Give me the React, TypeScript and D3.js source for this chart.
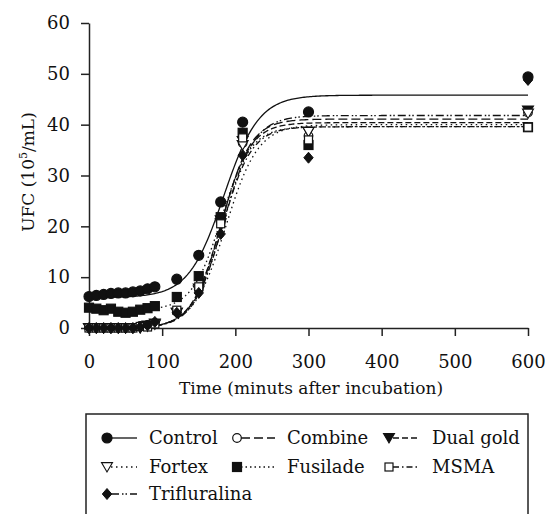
import React, { useEffect, useRef } from 'react';
import * as d3 from 'd3';

// sampling times (minutes)
const times = [0, 10, 20, 30, 40, 50, 60, 70, 80, 90, 120, 150, 180, 210, 300, 600];

const control = [6.2, 6.4, 6.6, 6.8, 6.9, 6.9, 7.1, 7.3, 7.7, 8.1, 9.6, 14.3, 24.8, 40.5, 42.5, 49.4];
const combine = [0, 0, 0, 0, 0, 0, 0, 0.4, 0.6, 1.0, 3.2, 7.6, 20.8, 36.4, 37.8, 42.4];
const dualGold = [0, 0, 0, 0, 0, 0, 0, 0, 0.5, 0.9, 3.0, 7.8, 21.2, 36.8, 38.6, 42.8];
const fortex = [0, 0, 0, 0, 0, 0, 0, 0, 0.3, 0.7, 3.0, 7.4, 20.6, 36.0, 38.6, 42.2];
const fusilade = [4.0, 3.8, 3.5, 3.8, 3.2, 3.0, 3.2, 3.6, 3.9, 4.3, 6.1, 10.2, 21.8, 38.4, 36.0, 39.5];
const msma = [0, 0, 0, 0, 0, 0, 0, 0.3, 0.2, 0.8, 3.5, 8.1, 20.5, 37.4, 37.0, 39.5];
const trifluralina = [0, 0, 0, 0, 0, 0, 0, 0.2, 0.5, 1.2, 3.0, 6.9, 18.5, 34.0, 33.5, 48.8];

// Boltzmann fit parameters: [bottom, top, x50, slope]
const fitControl = [6.0, 45.8, 184, 24];
const fitCombine = [0, 41.1, 181, 20];
const fitDualGold = [0, 40.4, 180, 20];
const fitFortex = [0, 40.0, 187, 22];
const fitFusilade = [3.5, 39.6, 181, 20];
const fitMsma = [0, 39.6, 182, 20];
const fitTrifluralina = [0, 41.8, 184, 21];

const xTicks = [0, 100, 200, 300, 400, 500, 600];
const yTicks = [0, 10, 20, 30, 40, 50, 60];

const series = [
  { name: 'Control', values: control, fit: fitControl, symbol: 'circle', filled: true, dash: null },
  { name: 'Combine', values: combine, fit: fitCombine, symbol: 'circle', filled: false, dash: '9,4' },
  { name: 'Dual gold', values: dualGold, fit: fitDualGold, symbol: 'triangleDown', filled: true, dash: '6,3' },
  { name: 'Fortex', values: fortex, fit: fitFortex, symbol: 'triangleDown', filled: false, dash: '1.5,3.5' },
  { name: 'Fusilade', values: fusilade, fit: fitFusilade, symbol: 'square', filled: true, dash: '1.5,3' },
  { name: 'MSMA', values: msma, fit: fitMsma, symbol: 'square', filled: false, dash: '6,3,1.5,3' },
  { name: 'Trifluralina', values: trifluralina, fit: fitTrifluralina, symbol: 'diamond', filled: true, dash: '8,3,1.5,2,1.5,3' },
];

const FONT = "'DejaVu Serif', 'Liberation Serif', serif";
const FS = '18px';

const drawSymbol = (g, type, filled, cx, cy) => {
  const fill = filled ? '#111' : '#fff';
  const stroke = '#111';
  if (type === 'circle') {
    g.append('circle').attr('cx', cx).attr('cy', cy).attr('r', filled ? 5 : 4.3)
      .attr('fill', fill).attr('stroke', stroke).attr('stroke-width', 1.2);
  } else if (type === 'square') {
    const s = filled ? 9 : 8;
    g.append('rect').attr('x', cx - s / 2).attr('y', cy - s / 2).attr('width', s).attr('height', s)
      .attr('fill', fill).attr('stroke', stroke).attr('stroke-width', 1.2);
  } else if (type === 'diamond') {
    const r = 5.5;
    g.append('path').attr('d', `M${cx},${cy - r}L${cx + r * 0.85},${cy}L${cx},${cy + r}L${cx - r * 0.85},${cy}Z`)
      .attr('fill', fill).attr('stroke', stroke).attr('stroke-width', 1);
  } else if (type === 'triangleDown') {
    const r = 5.5;
    g.append('path').attr('d', `M${cx - r},${cy - r * 0.8}L${cx + r},${cy - r * 0.8}L${cx},${cy + r * 0.9}Z`)
      .attr('fill', fill).attr('stroke', stroke).attr('stroke-width', 1.1);
  }
};

const Chart = ({ width = 545, height = 514 }) => {
  const svgRef = useRef(null);

  useEffect(() => {
    const svg = d3.select(svgRef.current);
    svg.selectAll('*').remove();

    const xScale = d3.scaleLinear().domain([0, 600]).range([89, 528]);
    const yScale = d3.scaleLinear().domain([0, 60]).range([328, 23]);

    // Fitted curves
    const grid = d3.range(0, 601, 2);
    const line = d3.line()
      .x(d => xScale(d[0]))
      .y(d => yScale(d[1]));

    series.forEach(s => {
      const [bottom, top, x50, slope] = s.fit;
      const pts = grid.map(t => [t, bottom + (top - bottom) / (1 + Math.exp((x50 - t) / slope))]);
      svg.append('path')
        .datum(pts)
        .attr('fill', 'none')
        .attr('stroke', '#111')
        .attr('stroke-width', 1.3)
        .attr('stroke-dasharray', s.dash)
        .attr('d', line);
    });

    // Axes
    const xAxis = svg.append('g')
      .attr('transform', `translate(0,${yScale(0)})`)
      .call(d3.axisBottom(xScale).tickValues(xTicks).tickSize(8).tickSizeOuter(0).tickPadding(19));
    const yAxis = svg.append('g')
      .attr('transform', `translate(${xScale(0)},0)`)
      .call(d3.axisLeft(yScale).tickValues(yTicks).tickSize(8).tickSizeOuter(0).tickPadding(11));

    [xAxis, yAxis].forEach(a => {
      a.attr('font-family', null).attr('font-size', null);
      a.selectAll('path, line').attr('stroke', '#222').attr('stroke-width', 1.5);
      a.selectAll('text').style('font-family', FONT).style('font-size', FS).attr('fill', '#111');
    });

    // Points
    const pg = svg.append('g');
    series.forEach(s => {
      s.values.forEach((v, i) => drawSymbol(pg, s.symbol, s.filled, xScale(times[i]), yScale(v)));
    });

    // Axis titles
    svg.append('text')
      .attr('x', 311).attr('y', 394)
      .attr('text-anchor', 'middle')
      .style('font-family', FONT).style('font-size', '17px').attr('fill', '#111')
      .text('Time (minuts after incubation)');

    const yt = svg.append('text')
      .attr('transform', 'translate(34,172) rotate(-90)')
      .attr('text-anchor', 'middle')
      .style('font-family', FONT).style('font-size', '17px').attr('fill', '#111');
    yt.append('tspan').text('UFC (10');
    yt.append('tspan').style('font-size', '11px').attr('dy', -7).text('5');
    yt.append('tspan').attr('dy', 7).text('/mL)');

    // Legend
    svg.append('rect')
      .attr('x', 86).attr('y', 414).attr('width', 442).attr('height', 120)
      .attr('fill', 'none').attr('stroke', '#222').attr('stroke-width', 1.5);

    const markerX = [107, 237, 389];
    const textX = [149, 287, 432];
    const rowY = [438, 467, 494];
    const lg = svg.append('g');
    series.forEach((s, i) => {
      const col = i % 3;
      const row = Math.floor(i / 3);
      const mx = markerX[col];
      const y = rowY[row];
      lg.append('line')
        .attr('x1', mx + 4).attr('x2', textX[col] - 12)
        .attr('y1', y).attr('y2', y)
        .attr('stroke', '#111').attr('stroke-width', 1.3)
        .attr('stroke-dasharray', s.dash);
      drawSymbol(lg, s.symbol, s.filled, mx, y);
      lg.append('text')
        .attr('x', textX[col]).attr('y', y)
        .attr('dy', '0.35em')
        .style('font-family', FONT).style('font-size', FS).attr('fill', '#111')
        .text(s.name);
    });
  }, [width, height]);

  return (
    <svg ref={svgRef} width={width} height={height}
      style={{ position: 'absolute', left: 0, top: 0, background: '#fff' }}></svg>
  );
};

export default function App() {
  return <Chart />;
}
